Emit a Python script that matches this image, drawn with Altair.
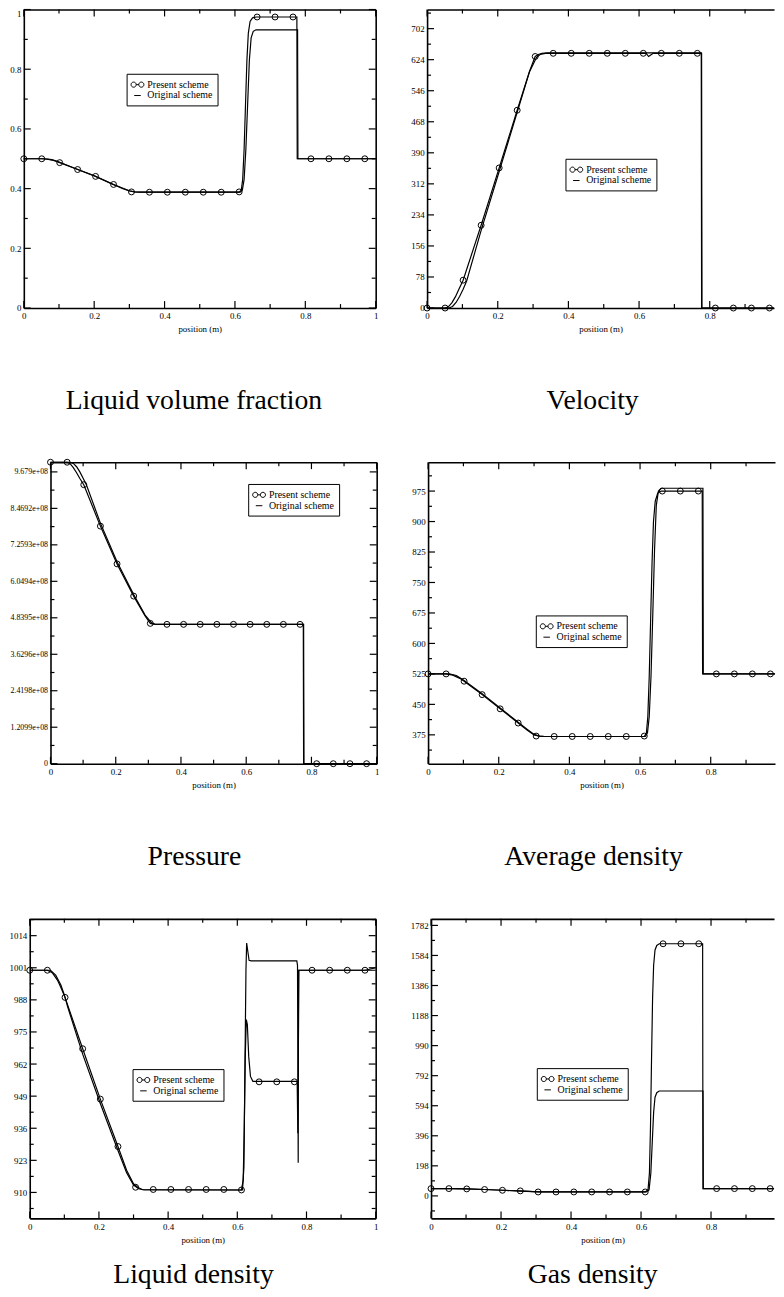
import json
import altair as alt
import pandas as pd

FONT = "Liberation Serif"

# ---------------- shared x data ----------------
marker_x = [0.0, 0.051, 0.102, 0.153, 0.204, 0.255, 0.306, 0.357, 0.408, 0.459,
            0.510, 0.561, 0.612, 0.663, 0.714, 0.765, 0.816, 0.867, 0.918, 0.969]

x_major = [0.0, 0.2, 0.4, 0.6, 0.8, 1.0]
x_major_labels = ["0", "0.2", "0.4", "0.6", "0.8", "1"]
x_minor = [0.1, 0.3, 0.5, 0.7, 0.9]

# ---------------- Liquid volume fraction ----------------
alpha_ticks = [0.0, 0.2, 0.4, 0.6, 0.8, 1.0]
alpha_tick_labels = ["0", "0.2", "0.4", "0.6", "0.8", "1"]
alpha_minor = [0.1, 0.3, 0.5, 0.7, 0.9]
alpha_marker_y = [0.5, 0.5, 0.487, 0.464, 0.441, 0.414, 0.389, 0.388, 0.388, 0.388,
                  0.388, 0.388, 0.389, 0.975, 0.975, 0.975, 0.5, 0.5, 0.5, 0.5]
alpha_present_x = [0.0, 0.051, 0.07, 0.09, 0.102, 0.153, 0.204, 0.255, 0.28, 0.30, 0.315, 0.33,
                   0.612, 0.618, 0.622, 0.626, 0.630, 0.634, 0.638, 0.643, 0.650, 0.660, 0.776, 0.777, 1.0]
alpha_present_y = [0.5, 0.5, 0.498, 0.493, 0.487, 0.464, 0.441, 0.414, 0.401, 0.392, 0.389, 0.388,
                   0.388, 0.395, 0.43, 0.53, 0.68, 0.83, 0.92, 0.96, 0.972, 0.975, 0.975, 0.5, 0.5]
alpha_original_x = [0.0, 0.06, 0.08, 0.1, 0.15, 0.2, 0.25, 0.28, 0.30, 0.315, 0.33, 0.615, 0.621,
                    0.626, 0.631, 0.636, 0.641, 0.646, 0.652, 0.66, 0.778, 0.779, 1.0]
alpha_original_y = [0.5, 0.5, 0.497, 0.489, 0.466, 0.443, 0.416, 0.402, 0.393, 0.389, 0.388, 0.388, 0.395,
                    0.43, 0.53, 0.68, 0.83, 0.905, 0.927, 0.932, 0.932, 0.5, 0.5]

# ---------------- Velocity ----------------
vel_ticks = [0, 78, 156, 234, 312, 390, 468, 546, 624, 702]
vel_tick_labels = ["0", "78", "156", "234", "312", "390", "468", "546", "624", "702"]
vel_minor = [39, 117, 195, 273, 351, 429, 507, 585, 663, 741]
vel_marker_y = [0, 0, 70, 208, 352, 497, 632, 640, 640, 640,
                640, 640, 640, 640, 640, 640, 0, 0, 0, 0]
vel_present_x = [0.0, 0.051, 0.06, 0.07, 0.08, 0.09, 0.102, 0.153, 0.204, 0.255, 0.29, 0.306,
                 0.315, 0.325, 0.34, 0.776, 0.777, 1.0]
vel_present_y = [0, 0, 3, 13, 28, 47, 70, 208, 352, 497, 595, 632, 637, 640, 641, 641, 0, 0]
vel_original_x = [0.0, 0.062, 0.072, 0.082, 0.092, 0.102, 0.112, 0.153, 0.204, 0.255, 0.29, 0.31,
                  0.32, 0.335, 0.62, 0.627, 0.633, 0.64, 0.777, 0.778, 1.0]
vel_original_y = [0, 0, 4, 14, 29, 47, 68, 195, 343, 492, 594, 630, 637, 640, 640, 632, 636, 640, 640, 0, 0]

# ---------------- Pressure ----------------
pres_ticks = [0.0, 1.2099e8, 2.4198e8, 3.6296e8, 4.8395e8, 6.0494e8, 7.2593e8, 8.4692e8, 9.679e8]
pres_tick_labels = ["0", "1.2099e+08", "2.4198e+08", "3.6296e+08", "4.8395e+08",
                    "6.0494e+08", "7.2593e+08", "8.4692e+08", "9.679e+08"]
pres_minor = [6.0495e7, 1.81485e8, 3.0247e8, 4.23455e8, 5.44445e8, 6.65435e8, 7.86425e8, 9.0741e8]
pres_marker_y = [1.0e9, 1.0e9, 9.254e8, 7.881e8, 6.627e8, 5.559e8, 4.654e8, 4.622e8, 4.622e8, 4.622e8,
                 4.622e8, 4.622e8, 4.622e8, 4.622e8, 4.622e8, 4.622e8, 0.0, 0.0, 0.0, 0.0]
pres_present_x = [0.0, 0.051, 0.06, 0.07, 0.08, 0.09, 0.102, 0.153, 0.204, 0.255, 0.29, 0.306,
                  0.315, 0.33, 0.775, 0.776, 1.0]
pres_present_y = [1.0e9, 1.0e9, 9.95e8, 9.82e8, 9.65e8, 9.46e8, 9.254e8, 7.881e8, 6.627e8, 5.559e8,
                  4.9e8, 4.654e8, 4.63e8, 4.622e8, 4.622e8, 0.0, 0.0]
pres_original_x = [0.0, 0.06, 0.07, 0.08, 0.09, 0.1, 0.11, 0.153, 0.204, 0.255, 0.29, 0.31,
                   0.32, 0.335, 0.776, 0.777, 1.0]
pres_original_y = [1.0e9, 1.0e9, 9.96e8, 9.85e8, 9.68e8, 9.47e8, 9.25e8, 7.98e8, 6.70e8, 5.61e8,
                   4.93e8, 4.67e8, 4.63e8, 4.622e8, 4.622e8, 0.0, 0.0]

# ---------------- Average density ----------------
avg_ticks = [375, 450, 525, 600, 675, 750, 825, 900, 975]
avg_tick_labels = ["375", "450", "525", "600", "675", "750", "825", "900", "975"]
avg_minor = [337.5, 412.5, 487.5, 562.5, 637.5, 712.5, 787.5, 862.5, 937.5, 1012.5]
avg_marker_y = [525, 525, 507, 474, 439, 404, 372, 371, 371, 371,
                371, 371, 372, 975, 975, 975, 525, 525, 525, 525]
avg_present_x = [0.0, 0.051, 0.07, 0.09, 0.102, 0.153, 0.204, 0.255, 0.28, 0.30, 0.315, 0.33,
                 0.612, 0.618, 0.622, 0.626, 0.630, 0.634, 0.638, 0.643, 0.650, 0.660, 0.776, 0.777, 1.0]
avg_present_y = [525, 525, 522, 514, 507, 474, 439, 404, 387, 375, 372, 371,
                 371, 380, 420, 520, 660, 800, 900, 950, 970, 975, 975, 525, 525]
avg_original_x = [0.0, 0.06, 0.08, 0.1, 0.153, 0.204, 0.255, 0.28, 0.30, 0.315, 0.33, 0.615, 0.621,
                  0.626, 0.631, 0.636, 0.641, 0.646, 0.652, 0.66, 0.778, 0.779, 1.0]
avg_original_y = [525, 525, 521, 510, 476, 441, 406, 389, 376, 372, 371, 371, 380,
                  420, 520, 670, 830, 940, 975, 982, 982, 525, 525]

# ---------------- Liquid density ----------------
rhol_ticks = [910, 923, 936, 949, 962, 975, 988, 1001, 1014]
rhol_tick_labels = ["910", "923", "936", "949", "962", "975", "988", "1001", "1014"]
rhol_minor = [903.5, 916.5, 929.5, 942.5, 955.5, 968.5, 981.5, 994.5, 1007.5, 1020.5]
rhol_marker_y = [1000, 1000, 989, 968.2, 947.8, 928.6, 912.1, 911.2, 911.2, 911.2,
                 911.2, 911.2, 911.0, 954.8, 954.8, 954.8, 1000, 1000, 1000, 1000]
rhol_present_x = [0.0, 0.051, 0.065, 0.08, 0.09, 0.102, 0.153, 0.204, 0.255, 0.28, 0.30, 0.312, 0.325,
                  0.612, 0.617, 0.620, 0.623, 0.626, 0.629, 0.633, 0.638, 0.645, 0.773, 0.775, 0.777, 0.778, 1.0]
rhol_present_y = [1000, 1000, 999, 996, 993, 989, 968.2, 947.8, 928.6, 919, 913.5, 912.1, 911.2,
                  911.0, 915, 935, 965, 980, 978, 965, 957, 955, 955, 934, 980, 1000, 1000]
rhol_original_x = [0.0, 0.06, 0.075, 0.09, 0.1, 0.11, 0.153, 0.204, 0.255, 0.28, 0.30, 0.315, 0.33,
                   0.615, 0.619, 0.622, 0.625, 0.627, 0.630, 0.634, 0.640, 0.772, 0.774, 0.776, 0.777,
                   0.97, 0.985, 1.0]
rhol_original_y = [1000, 1000, 998, 994, 990, 985, 966, 946, 927, 918, 913, 911.5, 911,
                   911, 920, 960, 1000, 1011, 1008, 1004, 1003.8, 1003.8, 1002, 922, 1000,
                   1000, 1000.5, 1001]

# ---------------- Gas density ----------------
rhog_ticks = [0, 198, 396, 594, 792, 990, 1188, 1386, 1584, 1782]
rhog_tick_labels = ["0", "198", "396", "594", "792", "990", "1188", "1386", "1584", "1782"]
rhog_minor = [-99, 99, 297, 495, 693, 891, 1089, 1287, 1485, 1683]
rhog_marker_y = [48, 48, 46, 42, 37, 33, 26, 26, 26, 26,
                 26, 26, 26, 1661, 1661, 1661, 48, 48, 48, 48]
rhog_present_x = [0.0, 0.051, 0.102, 0.153, 0.204, 0.255, 0.306, 0.612, 0.620, 0.624, 0.627, 0.630,
                  0.633, 0.636, 0.640, 0.645, 0.652, 0.776, 0.777, 1.0]
rhog_present_y = [48, 48, 46, 42, 37, 33, 26, 26, 40, 150, 450, 900, 1300, 1520, 1620, 1650, 1661,
                  1661, 48, 48]
rhog_original_x = [0.0, 0.06, 0.1, 0.153, 0.204, 0.255, 0.31, 0.615, 0.623, 0.628, 0.632, 0.636,
                   0.640, 0.645, 0.652, 0.777, 0.778, 1.0]
rhog_original_y = [48, 48, 46, 42, 37, 32, 26, 26, 40, 150, 350, 550, 650, 680, 691, 691, 48, 48]

series_names = ["Present scheme", "Original scheme"]

# legend symbols (custom SVG paths): two circles joined by a line / plain line
PRESENT_SYMBOL = ("M-1.18,0A0.47,0.47,0,1,1,-0.24,0A0.47,0.47,0,1,1,-1.18,0Z"
                  "M-0.24,0L0.24,0"
                  "M0.24,0A0.47,0.47,0,1,1,1.18,0A0.47,0.47,0,1,1,0.24,0Z")
ORIGINAL_SYMBOL = "M-0.6,0L0.6,0"

TICK_MAJOR = 7
TICK_MINOR = 4
TICK_W = 1.2
FRAME_W = 1.6
LINE_W = 1.2


def lookup_expr(values, labels):
    return f"{json.dumps(labels)}[indexof({json.dumps(values)}, datum.value)]"


def frame_axis(orient, offset):
    # frame edge (top / right) drawn as the domain of an axis moved onto that edge
    return alt.Axis(orient=orient, offset=offset, labels=False, ticks=False, domain=True,
                    domainColor="black", domainWidth=FRAME_W, grid=False, title=None,
                    minExtent=0)


def make_panel(p):
    W, H = p["w"], p["h"]
    xs = alt.Scale(domain=[0, p["xmax"]], nice=False, zero=False)
    ys = alt.Scale(domain=p["ydom"], nice=False, zero=False)
    xmaj = [v for v in x_major if v <= p["xmax"] + 1e-9]
    xlab = x_major_labels[:len(xmaj)]
    ymaj = p["yt"]
    ymin = p["ym"]

    ylab_extra = {}
    if p.get("top_flush"):
        ylab_extra["labelBaseline"] = {
            "condition": {"test": f"datum.value == {json.dumps(ymaj[-1])}", "value": "top"},
            "value": "middle"}

    ax_x_lab = alt.Axis(orient="bottom", values=xmaj, labelExpr=lookup_expr(xmaj, xlab),
                        ticks=False, domain=True, domainColor="black",
                        domainWidth=FRAME_W, labelFont=FONT, labelFontSize=9, labelColor="black",
                        labelPadding=4, labelFlush=False, labelOverlap=False, grid=False,
                        title="position (m)", titleFont=FONT, titleFontSize=9,
                        titleFontWeight="normal", titleColor="black", titlePadding=4, minExtent=0)
    ax_y_lab = alt.Axis(orient="left", values=ymaj, labelExpr=lookup_expr(ymaj, p["ytl"]),
                        ticks=False, domain=True, domainColor="black",
                        domainWidth=FRAME_W, labelFont=FONT, labelFontSize=p.get("ylfs", 9),
                        labelColor="black", labelPadding=3, labelFlush=False, labelOverlap=False,
                        grid=False, title=None, minExtent=0, **ylab_extra)

    orig = pd.DataFrame({"x": p["ox"], "y": p["oy"]})
    pres = pd.DataFrame({"x": p["px"], "y": p["py"]})
    mk = pd.DataFrame({"x": marker_x, "y": p["mk"], "series": "Present scheme"})

    X = lambda ax: alt.X("x:Q", scale=xs, axis=ax)
    Y = lambda ax: alt.Y("y:Q", scale=ys, axis=ax)

    layers = []
    layers.append(alt.Chart(orig).mark_line(color="black", strokeWidth=LINE_W, clip=p["right"]).encode(
        x=X(ax_x_lab), y=Y(ax_y_lab)))
    layers.append(alt.Chart(pres).mark_line(color="black", strokeWidth=LINE_W, clip=p["right"]).encode(
        x=X(frame_axis("bottom", -H)),
        y=Y(None if p["right"] else frame_axis("left", -W))))
    layers.append(alt.Chart(mk).mark_point(shape="circle", filled=False, color="black", size=36,
                                           strokeWidth=1, opacity=1).encode(x=X(None), y=Y(None)))
    legend = alt.Legend(orient="none", legendX=p["leg"][0], legendY=p["leg"][1], title=None,
                        labelFont=FONT, labelFontSize=10, labelColor="black", labelOffset=4,
                        symbolSize=121, symbolStrokeColor="black", symbolStrokeWidth=1,
                        symbolFillColor="transparent", symbolOpacity=1,
                        strokeColor="black", fillColor="white", padding=5, rowPadding=0)
    layers.append(alt.Chart(mk).mark_point(filled=False, color="black", opacity=0).encode(
        x=X(None), y=Y(None),
        shape=alt.Shape("series:N",
                        scale=alt.Scale(domain=series_names, range=[PRESENT_SYMBOL, ORIGINAL_SYMBOL]),
                        legend=legend)))

    # inward tick marks on every frame edge (rules placed at the tick values)
    for vals, size in ((xmaj, TICK_MAJOR), (x_minor, TICK_MINOR)):
        tdf = pd.DataFrame({"v": vals})
        xv = alt.X("v:Q", scale=xs, axis=None)
        layers.append(alt.Chart(tdf).mark_rule(color="black", strokeWidth=TICK_W).encode(
            x=xv, y=alt.value(H), y2=alt.value(H - size)))
        layers.append(alt.Chart(tdf).mark_rule(color="black", strokeWidth=TICK_W).encode(
            x=xv, y=alt.value(0), y2=alt.value(size)))
    for vals, size in ((ymaj, TICK_MAJOR), (ymin, TICK_MINOR)):
        tdf = pd.DataFrame({"v": vals})
        yv = alt.Y("v:Q", scale=ys, axis=None)
        layers.append(alt.Chart(tdf).mark_rule(color="black", strokeWidth=TICK_W).encode(
            y=yv, x=alt.value(0), x2=alt.value(size)))
        if not p["right"]:
            layers.append(alt.Chart(tdf).mark_rule(color="black", strokeWidth=TICK_W).encode(
                y=yv, x=alt.value(W), x2=alt.value(W - size)))

    return alt.layer(*layers).resolve_axis(x="independent", y="independent").properties(
        width=W, height=H,
        title=alt.TitleParams(p["caption"], orient="bottom", anchor="middle", frame="bounds",
                              font=FONT, fontSize=28, fontWeight="normal", color="black",
                              offset=p["cap_off"]))


panels = [
    dict(caption="Liquid volume fraction", w=356, h=302, xmax=1.0, ydom=[0, 1],
         yt=alpha_ticks, ytl=alpha_tick_labels, ym=alpha_minor, mk=alpha_marker_y,
         px=alpha_present_x, py=alpha_present_y, ox=alpha_original_x, oy=alpha_original_y,
         leg=(104, 65), cap_off=54, right=False, top_flush=True),
    dict(caption="Velocity", w=351, h=302, xmax=0.982, ydom=[0, 750],
         yt=vel_ticks, ytl=vel_tick_labels, ym=vel_minor, mk=vel_marker_y,
         px=vel_present_x, py=vel_present_y, ox=vel_original_x, oy=vel_original_y,
         leg=(140, 151), cap_off=54, right=True),
    dict(caption="Pressure", w=330, h=305, xmax=1.0, ydom=[0, 1.0e9],
         yt=pres_ticks, ytl=pres_tick_labels, ym=pres_minor, mk=pres_marker_y,
         px=pres_present_x, py=pres_present_y, ox=pres_original_x, oy=pres_original_y,
         leg=(200, 22), cap_off=54, right=False, ylfs=8),
    dict(caption="Average density", w=351, h=305, xmax=0.982, ydom=[304, 1046],
         yt=avg_ticks, ytl=avg_tick_labels, ym=avg_minor, mk=avg_marker_y,
         px=avg_present_x, py=avg_present_y, ox=avg_original_x, oy=avg_original_y,
         leg=(109, 155), cap_off=54, right=True),
    dict(caption="Liquid density", w=350, h=303, xmax=1.0, ydom=[899.5, 1020.8],
         yt=rhol_ticks, ytl=rhol_tick_labels, ym=rhol_minor, mk=rhol_marker_y,
         px=rhol_present_x, py=rhol_present_y, ox=rhol_original_x, oy=rhol_original_y,
         leg=(104, 152), cap_off=17, right=False),
    dict(caption="Gas density", w=347, h=303, xmax=0.980, ydom=[-148, 1825],
         yt=rhog_ticks, ytl=rhog_tick_labels, ym=rhog_minor, mk=rhog_marker_y,
         px=rhog_present_x, py=rhog_present_y, ox=rhog_original_x, oy=rhog_original_y,
         leg=(107, 151), cap_off=17, right=True),
]

charts = [make_panel(p) for p in panels]
RES = dict(x="independent", y="independent", shape="independent")


def spacer():
    # 1-px empty cell: makes every row start at its own left edge
    return alt.Chart(pd.DataFrame({"d": [0]})).mark_point(size=0, opacity=0).encode(
        x=alt.value(0), y=alt.value(0)).properties(width=1, height=1)


def row(left, right):
    inner = alt.hconcat(spacer(), left, spacing=0).resolve_scale(**RES)
    return alt.hconcat(inner, right, spacing=32).resolve_scale(**RES)


row1 = row(charts[0], charts[1])
row2 = row(charts[2], charts[3])
row3 = row(charts[4], charts[5])

top_rows = alt.vconcat(row1, row2, spacing=43).resolve_scale(**RES)
chart = alt.vconcat(top_rows, row3, spacing=48).resolve_scale(**RES).properties(
    padding={"left": 0, "top": -7, "right": 0, "bottom": 0},
    background="white").configure_view(strokeWidth=0)

chart.save("out.html", embed_options={"renderer": "svg", "actions": False})
